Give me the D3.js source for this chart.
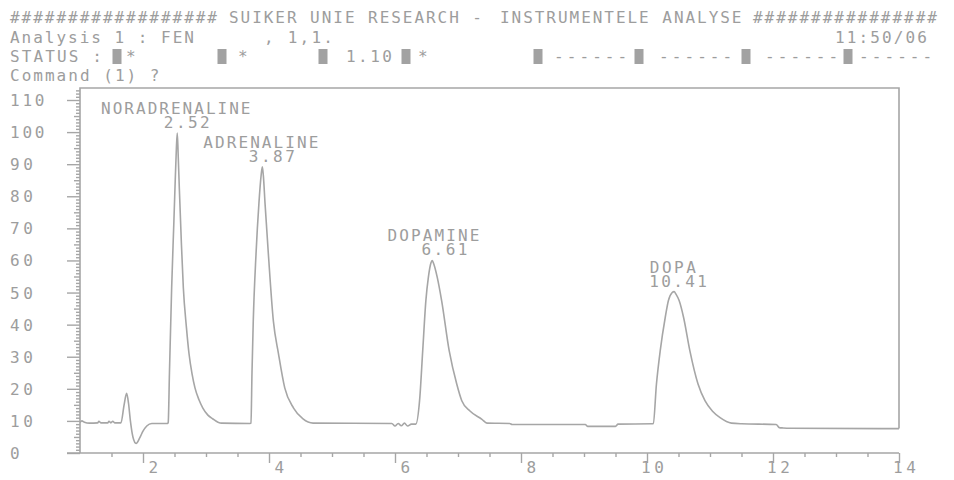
<!DOCTYPE html>
<html>
<head>
<meta charset="utf-8">
<script src="https://d3js.org/d3.v7.min.js"></script>
<style>
  body { margin: 0; background: #fff; }
  svg text { font-family: "DejaVu Sans Mono", "Liberation Mono", monospace; font-size: 16px; fill: #9d9d9d; }
</style>
</head>
<body>
<div id="chart"></div>
<script>
// chromatogram trace: time (min) / detector signal
var traceTime = [
  1.00, 1.03, 1.07, 1.15, 1.28, 1.30, 1.33, 1.44, 1.46, 1.49, 1.52, 1.55, 1.65,
  1.70, 1.74, 1.77, 1.80, 1.84, 1.89, 1.95, 2.00, 2.06, 2.14, 2.39,
  2.40, 2.42, 2.455, 2.49, 2.508, 2.53, 2.544, 2.56, 2.576, 2.61, 2.64, 2.69, 2.73,
  2.78, 2.825, 2.89, 2.95, 3.03, 3.11, 3.19, 3.25, 3.70,
  3.714, 3.73, 3.75, 3.794, 3.84, 3.875, 3.894, 3.91, 3.937, 3.99, 4.07, 4.15,
  4.25, 4.39, 4.54, 4.70, 5.95,
  6.00, 6.05, 6.10, 6.15, 6.20, 6.26, 6.33,
  6.39, 6.44, 6.49, 6.53, 6.57, 6.59, 6.61, 6.67, 6.74, 6.86, 6.98, 7.06, 7.19,
  7.38, 7.46, 7.82, 7.86, 9.02, 9.06, 9.50, 9.54, 10.08,
  10.10, 10.15, 10.21, 10.29, 10.34, 10.40, 10.43, 10.46, 10.51, 10.58, 10.68,
  10.81, 10.92, 11.04, 11.16, 11.34, 11.50, 12.05, 12.10, 12.16, 12.27, 14.00
]
var traceSignal = [
  9.5, 10.0, 9.6, 9.3, 9.4, 9.9, 9.4, 9.4, 9.9, 9.4, 9.9, 9.4, 9.4,
  15.0, 18.6, 15.5, 10.0, 5.0, 3.0, 4.8, 6.8, 8.4, 9.2, 9.2,
  9.5, 25, 51.6, 72, 82.8, 95, 99.7, 92, 82.8, 65, 51.6, 39, 31,
  24.5, 20.3, 16.5, 14.0, 11.8, 10.6, 9.6, 9.3, 9.2,
  9.3, 25, 41, 62, 77.8, 86.5, 89.2, 86.5, 77.8, 62, 41, 31,
  20.3, 14.0, 10.6, 9.3, 9.2,
  8.4, 9.2, 8.5, 9.3, 8.4, 9.0, 9.0,
  16.3, 31.9, 47.5, 54.8, 59.2, 60, 59.2, 54.8, 47.5, 31.9, 21.5, 16.3, 13.1,
  10.5, 9.3, 9.2, 8.9, 8.9, 8.3, 8.3, 9.0, 9.1,
  9.2, 21.5, 31.9, 42.3, 47.5, 50.0, 50.3, 49.5, 47.5, 42.3, 31.9,
  21.5, 16.3, 13.0, 11.0, 9.3, 9.1, 8.9, 7.9, 7.8, 7.7, 7.6
]

var peakNames = ["NORADRENALINE", "ADRENALINE", "DOPAMINE", "DOPA"]
var peakTimes = [2.52, 3.87, 6.61, 10.41]
var peakHeights = [99.7, 89.2, 60, 50.3]

var yTicks = [0, 10, 20, 30, 40, 50, 60, 70, 80, 90, 100, 110]
var xTicks = [2, 4, 6, 8, 10, 12, 14]

// terminal header lines
var titleLine = ["##################", "SUIKER UNIE RESEARCH -", "INSTRUMENTELE ANALYSE", "################"]
var analysisLine = ["Analysis 1 : FEN", ", 1,1.", "11:50/06"]
var statusLine = ["STATUS :", "*", "*", "1.10", "*", "------", "------", "------", "------"]
var commandLine = ["Command (1) ?"]

var W = 954, H = 480
var cw = 11.5 // width of one terminal column
var ink = "#a6a6a6"

var svg = d3.select("#chart").append("svg")
  .attr("width", W)
  .attr("height", H)

var x = d3.scaleLinear().domain([1, 14]).range([80, 899])
var y = d3.scaleLinear().domain([0, 110]).range([453, 100])

// monospace text stretched to the terminal grid
function term(str, px, py, anchor, colw) {
  return svg.append("text")
    .attr("x", px)
    .attr("y", py)
    .attr("text-anchor", anchor || "start")
    .attr("textLength", str.length * (colw || cw))
    .attr("lengthAdjust", "spacing")
    .style("white-space", "pre")
    .text(str)
}

// ---- header ----
var titleX = [10, 229, 500, 753]
titleLine.forEach(function (s, i) { term(s, titleX[i], 23) })

var analysisX = [10, 264, 835]
analysisLine.forEach(function (s, i) { term(s, analysisX[i], 43) })

var statusX = [10, 126, 238, 346, 418, 554, 659, 765, 859]
statusLine.forEach(function (s, i) {
  // the dash runs are spread a bit wider than one column each
  term(s, statusX[i], 62, "start", s.charAt(0) == "-" ? 12.2 : cw)
})

// the little inverted status boxes
var boxCenters = [117, 222, 323, 406, 538, 639, 746, 848]
svg.selectAll(".statbox")
  .data(boxCenters)
  .enter().append("rect")
  .attr("class", "statbox")
  .attr("x", function (d) { return d - 4.5 })
  .attr("y", 49)
  .attr("width", 9)
  .attr("height", 15)
  .style("fill", "#a2a2a2")

term(commandLine[0], 10, 81)

// ---- axes ----
var yAx = svg.append("g").attr("color", ink).attr("transform", "translate(80,0)")

function tickAxis(g, axis) {
  g.call(axis)
  g.select(".domain").remove()
  g.selectAll("line").attr("stroke-width", 1.4)
}

var yOnes = d3.range(0, 114).filter(function (d) { return d % 5 != 0 })
var yFives = d3.range(5, 114, 10)
tickAxis(yAx.append("g"), d3.axisLeft(y).tickValues(yOnes).tickSize(4).tickFormat(""))
tickAxis(yAx.append("g"), d3.axisLeft(y).tickValues(yFives).tickSize(6).tickFormat(""))
tickAxis(yAx.append("g"), d3.axisLeft(y).tickValues(yTicks).tickSize(13).tickFormat(""))

yTicks.forEach(function (v) {
  term(String(v), 10, y(v) + 6)
})

var xAx = svg.append("g").attr("color", ink).attr("transform", "translate(0,453)")
var xHalves = d3.range(1.5, 14, 0.5).filter(function (d) { return d % 2 != 0 })
tickAxis(xAx.append("g"), d3.axisBottom(x).tickValues(xHalves).tickSize(4).tickFormat(""))
tickAxis(xAx.append("g"), d3.axisBottom(x).tickValues(xTicks).tickSize(10).tickFormat(""))

xTicks.forEach(function (v) {
  var s = String(v)
  term(s, x(v) - 6 + (2 - s.length) * cw, 473)
})

// axis lines and the plot frame
var frame = d3.path()
frame.moveTo(67, y(0)); frame.lineTo(x(14), y(0))
frame.moveTo(x(1), y(0)); frame.lineTo(x(1), 88); frame.lineTo(x(14), 88)
frame.lineTo(x(14), y(traceSignal[traceSignal.length - 1]))
svg.append("path")
  .attr("d", frame.toString())
  .style("fill", "none")
  .style("stroke", ink)
  .style("stroke-width", 1.6)

// ---- chromatogram ----
var trace = traceTime.map(function (t, i) { return [t, traceSignal[i]] })
var line = d3.line()
  .x(function (d) { return x(d[0]) })
  .y(function (d) { return y(d[1]) })
  .curve(d3.curveMonotoneX)

svg.append("path")
  .datum(trace)
  .attr("d", line)
  .style("fill", "none")
  .style("stroke", ink)
  .style("stroke-width", 1.6)
  .style("stroke-linejoin", "round")

// peak names + retention times (the printer overprints them a little)
peakNames.forEach(function (name, i) {
  var px = x(peakTimes[i])
  var py = y(peakHeights[i]) - 5
  term(peakTimes[i].toFixed(2), px + 34, py, "end")
  term(name, px, py - 14, "middle")
})
</script>
</body>
</html>
